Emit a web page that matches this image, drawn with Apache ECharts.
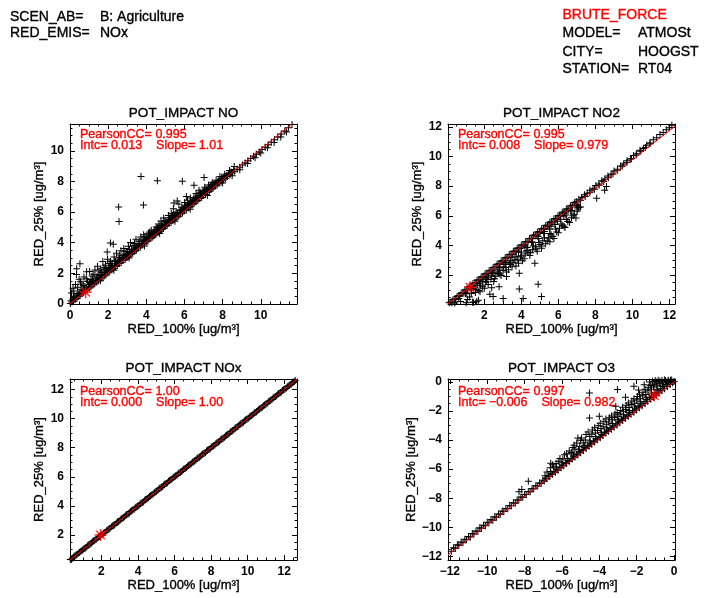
<!DOCTYPE html>
<html>
<head>
<meta charset="utf-8">
<script src="https://cdn.jsdelivr.net/npm/echarts@6/dist/echarts.min.js"></script>
<style>html,body{margin:0;padding:0;background:#fff}#c{width:717px;height:598px}</style>
</head>
<body>
<div id="c"></div>
<script>
// ---------------- data ----------------
const panelTitles = ['POT_IMPACT NO', 'POT_IMPACT NO2', 'POT_IMPACT NOx', 'POT_IMPACT O3'];
const statsLine1 = ['PearsonCC= 0.995', 'PearsonCC= 0.995', 'PearsonCC= 1.00', 'PearsonCC= 0.997'];
const statsLine2 = ['Intc= 0.013    Slope= 1.01', 'Intc= 0.008    Slope= 0.979', 'Intc= 0.000    Slope= 1.00', 'Intc= \u22120.006    Slope= 0.982'];
const xAxisName = 'RED_100% [ug/m\u00b3]';
const yAxisName = 'RED_25% [ug/m\u00b3]';
const headerLeft = [['SCEN_AB=', 'B: Agriculture'], ['RED_EMIS=', 'NOx']];
const headerRight = [['MODEL=', 'ATMOSt'], ['CITY=', 'HOOGST'], ['STATION=', 'RT04']];
const methodLabel = 'BRUTE_FORCE';

const xRanges = [[0, 11.9], [0.04, 12.3], [0.28, 12.7], [-12.1, 0.05]];
const yRanges = [[0, 11.75], [0.04, 12.2], [0.28, 12.72], [-12.25, 0.2]];

const noPoints = [
[0.02,0.04],[0.1,0.13],[0.19,0.18],[0.27,0.31],[0.36,0.37],[0.46,0.49],[0.53,0.55],[0.63,0.67],[0.72,0.73],[0.83,0.87],[0.9,0.93],[1.02,1.05],[1.1,1.13],[1.21,1.25],[1.3,1.33],[1.4,1.44],[1.49,1.52],[1.59,1.63],[1.68,1.71],[1.79,1.83],[1.88,1.9],[1.99,2.04],[2.08,2.11],[2.19,2.23],[2.28,2.31],[2.39,2.44],[2.48,2.5],[2.59,2.64],[2.68,2.71],[2.79,2.84],[2.89,2.91],[2.99,3.04],[3.08,3.11],[3.19,3.24],[3.29,3.31],[3.39,3.45],[3.48,3.51],[3.59,3.65],[3.69,3.72],[3.79,3.85],[3.9,3.93],[4.0,4.06],[4.09,4.12],[4.2,4.26],[4.3,4.33],[4.4,4.46],[4.5,4.53],[4.6,4.66],[4.69,4.72],[4.8,4.86],[4.9,4.93],[5.0,5.07],[5.09,5.13],[5.2,5.27],[5.3,5.33],[5.4,5.47],[5.49,5.53],[5.6,5.67],[5.7,5.73],[5.8,5.87],[5.9,5.94],[6.0,6.08],[6.1,6.14],[6.21,6.28],[6.3,6.35],[6.41,6.48],[6.5,6.55],[6.61,6.68],[6.7,6.75],[6.81,6.89],[6.9,6.95],[7.01,7.09],[7.1,7.15],[7.21,7.29],[7.31,7.36],[7.41,7.49],[7.5,7.55],[7.62,7.7],[7.71,7.76],[7.82,7.89],[7.92,7.97],[8.03,8.1],[8.14,8.19],[8.26,8.32],[8.38,8.42],[8.5,8.55],[8.63,8.67],[8.76,8.8],[8.9,8.93],[9.04,9.07],[9.18,9.2],[9.33,9.35],[9.47,9.49],[9.62,9.64],[9.77,9.78],[9.92,9.93],[10.07,10.08],[10.23,10.24],[10.39,10.4],[10.55,10.56],[10.72,10.73],[10.89,10.9],[11.07,11.09],[11.26,11.29],[11.45,11.5],[11.64,11.71],
[0.06,0.22],[0.15,0.33],[0.24,0.41],[0.33,0.52],[0.43,0.6],[0.51,0.71],[0.6,0.79],[0.69,0.9],[0.79,0.98],[0.87,1.08],[0.97,1.16],[1.06,1.27],[1.15,1.35],[1.25,1.45],[1.35,1.54],[1.45,1.65],[1.54,1.73],[1.64,1.84],[1.73,1.93],[1.84,2.03],[1.93,2.13],[2.04,2.24],[2.13,2.33],[2.24,2.44],[2.34,2.53],[2.44,2.65],[2.53,2.73],[2.64,2.85],[2.73,2.93],[2.84,3.05],[2.94,3.13],[3.04,3.25],[3.14,3.34],[3.24,3.45],[3.34,3.53],[3.44,3.66],[3.54,3.74],[3.64,3.86],[3.74,3.94],[3.84,4.07],[3.95,4.15],[4.05,4.27],[4.15,4.35],[4.25,4.48],[4.35,4.56],[4.45,4.68],[4.55,4.76],[4.65,4.88],[4.75,4.96],[4.85,5.09],[4.95,5.17],[5.05,5.29],[5.15,5.37],[5.25,5.5],[5.35,5.57],[5.45,5.7],[5.55,5.78],[5.65,5.9],[5.75,5.98],[5.85,6.11],[5.95,6.18],[6.05,6.31],[6.16,6.39],[6.26,6.51],[6.36,6.59],[6.46,6.72],[6.56,6.79],[6.66,6.92],[6.76,6.99],[6.86,7.12],[6.96,7.19],[7.06,7.32],[7.16,7.39],[7.26,7.52],[7.36,7.59],[7.46,7.71],[7.57,7.78],[7.67,7.91],[7.77,7.98],[7.87,8.1],[7.97,8.17],[8.09,8.3],[8.2,8.38],[8.32,8.5],[8.44,8.6],
[1.6,1.52],[2.3,2.2],[3.1,3.0],[3.9,3.79],[4.7,4.6],[5.5,5.4],[6.3,6.18],[7.2,7.08],[8.0,7.9],[8.5,8.37],[8.9,8.76],[9.3,9.17],[9.7,9.55],[10.0,9.86],[10.35,10.2],[10.7,10.55],[11.05,10.9],[11.35,11.22],
[0.18,0.46],[0.41,0.68],[0.58,0.97],[0.79,1.12],[1.02,1.4],[1.18,1.52],[1.43,1.83],[1.58,1.93],[1.82,2.22],[2.03,2.38],[2.21,2.63],[2.38,2.77],[2.62,3.03],[2.79,3.18],[3.01,3.42],[3.22,3.58],[3.39,3.78],[3.61,3.93],[3.78,4.17],[4.02,4.33],[4.19,4.57],[4.41,4.73],[4.58,4.97],[4.81,5.13],[4.98,5.37],[5.22,5.53],[5.38,5.77],[5.61,5.93],[5.79,6.14],[6.02,6.33],[6.19,6.54],[6.42,6.68],[6.58,6.92],[6.81,7.08],[6.99,7.3],[7.22,7.43],[7.38,7.68],[7.61,7.83],[7.79,8.04],[8.02,8.2],[8.31,8.52],[8.58,8.78],
[0.08,0.72],[0.16,1.02],[0.29,1.27],[0.48,1.62],[0.34,1.92],[0.62,1.31],[0.73,1.77],[0.92,1.48],[1.03,2.12],[1.16,1.83],[1.31,2.22],[1.44,2.47],[1.61,2.28],[1.72,2.77],[1.86,2.53],[1.97,2.92],[2.12,2.78],[2.31,3.07],[2.44,3.32],[2.56,2.93],[2.67,3.47],[2.82,3.62],[2.93,3.28],[3.06,3.77],[3.17,4.02],[3.31,3.83],[3.46,4.22],[3.57,3.93],[3.71,4.37],[3.86,4.52],[3.97,4.18],[4.12,4.62],[4.26,4.82],[4.41,4.53],[4.52,5.02],[4.66,5.22],[4.77,5.42],[4.91,5.62],[5.02,5.23],[5.16,5.77],[5.31,5.92],[5.42,6.22],[5.56,5.98],[5.71,6.52],[5.86,6.28],[6.01,6.62],[6.16,6.77],[6.31,6.92],[6.46,6.83],[6.61,7.22],[6.76,7.42],[6.91,7.23],[7.06,7.62],[7.26,7.77],[7.46,7.92],[7.66,8.07],[7.86,8.32],[8.11,8.47],[8.36,8.72],[8.61,8.97],
[0.2,0.85],[0.4,1.1],[0.55,1.45],[0.7,1.2],[0.85,1.65],[1.1,1.6],[1.25,1.95],[1.38,1.7],[1.52,2.15],[1.66,2.05],[1.78,2.4],[1.9,2.3],[2.05,2.65],[2.18,2.5],[2.35,2.85],[2.5,2.7],[2.6,3.2],[2.74,3.0],[2.88,3.45],[3.0,3.2],[3.12,3.55],[3.25,3.4],[3.38,3.95],[3.5,3.7],[3.63,4.1],[3.77,3.95],[3.92,4.4],[4.05,4.25],[4.18,4.7],[4.33,4.45],[4.46,4.85],[4.6,4.72],[4.72,5.1],[4.86,5.0],[4.98,5.45],[5.1,5.3],[5.25,5.65],[5.37,5.5],[5.5,5.85],[5.65,5.95],[5.78,6.1],[5.92,6.2],[6.05,6.45],[6.2,6.5],[6.35,6.6],[6.5,6.95],[6.65,6.98],[6.82,7.3],[6.97,7.35],[7.13,7.5],[7.3,7.62],[7.52,7.8],[7.74,7.97],[7.95,8.2],[8.2,8.38],[8.45,8.6],
[3.72,8.33],[4.58,8.05],[5.89,8.02],[7.03,8.25],[6.5,7.75],[7.4,7.8],[2.55,6.33],[2.57,5.39],[3.85,6.46],[2.27,3.9],[2.12,3.98],[1.95,3.4],[0.52,2.62],[0.35,2.3],[0.87,2.1],[5.45,6.6],[5.62,6.72],[6.1,7.02]
];

const no2Points = [
[0.1,0.12],[0.19,0.17],[0.31,0.33],[0.41,0.4],[0.53,0.55],[0.62,0.61],[0.75,0.77],[0.84,0.82],[0.96,0.99],[1.05,1.03],[1.18,1.21],[1.27,1.25],[1.39,1.42],[1.49,1.47],[1.61,1.64],[1.7,1.68],[1.83,1.86],[1.92,1.9],[2.04,2.07],[2.13,2.11],[2.26,2.29],[2.35,2.32],[2.48,2.51],[2.57,2.54],[2.69,2.73],[2.79,2.76],[2.91,2.94],[3.0,2.97],[3.13,3.16],[3.22,3.19],[3.35,3.38],[3.44,3.4],[3.57,3.6],[3.65,3.62],[3.78,3.81],[3.87,3.84],[4.0,4.03],[4.09,4.05],[4.22,4.25],[4.31,4.27],[4.44,4.47],[4.53,4.49],[4.66,4.69],[4.75,4.71],[4.88,4.91],[4.97,4.93],[5.1,5.13],[5.19,5.15],[5.32,5.35],[5.41,5.37],[5.54,5.57],[5.63,5.59],[5.76,5.79],[5.85,5.81],[5.98,6.01],[6.07,6.03],[6.21,6.23],[6.3,6.26],[6.43,6.45],[6.52,6.48],[6.65,6.67],[6.75,6.71],[6.88,6.89],[6.97,6.94],[7.11,7.12],[7.26,7.23],[7.41,7.42],[7.56,7.52],[7.71,7.72],[7.87,7.83],[8.03,8.04],[8.19,8.15],[8.35,8.36],[8.51,8.47],[8.68,8.69],[8.85,8.81],[9.01,9.03],[9.19,9.14],[9.36,9.37],[9.53,9.49],[9.71,9.72],[9.89,9.84],[10.06,10.07],[10.23,10.19],[10.41,10.42],[10.59,10.54],[10.77,10.77],[10.95,10.91],[11.13,11.13],[11.31,11.27],[11.49,11.49],[11.66,11.63],[11.83,11.81],[11.99,11.95],[12.13,12.11],
[0.25,0.13],[0.46,0.34],[0.68,0.57],[0.9,0.78],[1.11,1.0],[1.33,1.21],[1.55,1.43],[1.76,1.64],[1.98,1.86],[2.2,2.07],[2.41,2.29],[2.63,2.5],[2.85,2.72],[3.06,2.93],[3.28,3.15],[3.5,3.36],[3.71,3.58],[3.93,3.79],[4.15,4.01],[4.36,4.22],[4.58,4.44],[4.8,4.65],[5.01,4.87],[5.23,5.08],[5.45,5.3],[5.66,5.51],[5.88,5.73],[6.1,5.94],[6.31,6.16],[6.53,6.37],[6.75,6.59],[6.96,6.8],[7.2,7.05],[7.45,7.3],[7.7,7.55],[7.95,7.8],[8.2,8.06],[8.45,8.31],[8.7,8.57],[8.95,8.83],[9.2,9.08],[9.45,9.34],[9.7,9.6],[9.95,9.85],[10.2,10.1],[10.45,10.36],[10.7,10.61],[10.95,10.86],
[1.05,0.78],[1.4,1.1],[1.75,1.45],[2.1,1.8],[2.45,2.14],[2.8,2.5],[3.15,2.84],[3.5,3.2],[3.85,3.53],[4.2,3.9],[4.55,4.23],[4.9,4.6],[5.25,4.93],[5.6,5.3],[5.95,5.63],[6.3,6.0],[6.65,6.33],[7.0,6.72],
[0.62,0.41],[0.98,0.74],[1.31,1.06],[1.62,1.31],[1.91,1.56],[2.21,1.86],[2.52,2.12],[2.81,2.41],[3.12,2.71],[3.41,2.96],[3.72,3.26],[4.01,3.56],[4.32,3.86],[4.61,4.21],[4.92,4.46],[5.21,4.81],[5.52,5.11],[5.81,5.41],[6.12,5.76],[6.41,6.06],[6.72,6.36],[7.01,6.71],
[0.41,0.11],[0.72,0.21],[1.02,0.13],[1.21,0.52],[1.52,0.81],[1.42,0.16],[1.71,0.96],[1.91,1.21],[2.06,1.52],[2.21,1.36],[2.36,1.71],[2.51,1.56],[2.62,1.91],[2.76,2.11],[2.91,1.96],[3.01,2.31],[3.16,2.51],[3.31,2.36],[3.42,2.71],[3.56,2.86],[3.71,2.61],[3.81,3.06],[3.96,3.21],[4.06,2.96],[4.21,3.41],[4.36,3.56],[4.46,3.31],[4.61,3.71],[4.76,3.91],[4.86,3.61],[5.01,4.06],[5.16,4.31],[5.31,4.11],[5.46,4.51],[5.61,4.71],[5.76,4.46],[5.91,4.91],[6.06,5.16],[6.21,5.36],[6.36,5.21],[6.51,5.61],[6.71,5.86],[6.86,6.11],[7.01,6.31],[7.11,6.56],
[1.1,0.35],[1.3,0.75],[1.55,1.0],[1.8,1.3],[2.0,1.1],[2.15,1.7],[2.4,1.95],[2.55,1.75],[2.7,2.2],[2.85,2.05],[3.05,2.55],[3.2,2.2],[3.35,2.8],[3.5,2.55],[3.65,3.0],[3.85,2.8],[4.0,3.3],[4.15,3.1],[4.3,3.65],[4.5,3.5],[4.65,3.95],[4.8,3.75],[4.95,4.2],[5.1,3.95],[5.25,4.5],[5.4,4.3],[5.55,4.8],[5.7,4.6],[5.85,5.1],[6.0,4.85],[6.15,5.45],[6.3,5.3],[6.45,5.75],[6.6,5.55],[6.8,6.0],[6.95,5.85],[7.05,6.45],[7.2,6.6],
[8.07,7.18],[8.5,7.72],[8.6,7.97],[7.07,6.6],[5.09,3.8],[5.54,4.25],[4.73,2.79],[3.89,2.11],[3.89,1.05],[4.91,1.37],[5.09,0.54],[4.1,0.42],[3.02,0.42],[2.48,0.55],[2.4,1.14],[1.77,0.87],[1.59,0.2],[1.68,0.3],[1.37,0.15],[3.2,1.89],[2.1,1.55],[2.8,1.2],[2.3,0.7]
];

const noxPoints = [
[0.3,0.31],[0.41,0.4],[0.55,0.57],[0.66,0.65],[0.8,0.82],[0.94,0.93],[1.05,1.07],[1.2,1.18],[1.31,1.33],[1.46,1.44],[1.57,1.6],[1.71,1.69],[1.84,1.86],[1.95,1.94],[2.1,2.12],[2.21,2.19],[2.36,2.37],[2.47,2.46],[2.62,2.64],[2.73,2.71],[2.88,2.9],[3.01,2.99],[3.12,3.14],[3.27,3.25],[3.38,3.4],[3.53,3.51],[3.64,3.66],[3.79,3.77],[3.9,3.92],[4.05,4.03],[4.16,4.18],[4.31,4.29],[4.42,4.44],[4.57,4.55],[4.68,4.7],[4.83,4.81],[4.94,4.96],[5.09,5.07],[5.2,5.22],[5.35,5.33],[5.46,5.48],[5.61,5.59],[5.72,5.74],[5.87,5.85],[5.98,6.0],[6.13,6.11],[6.24,6.26],[6.39,6.37],[6.5,6.52],[6.65,6.63],[6.76,6.78],[6.91,6.89],[7.02,7.04],[7.17,7.15],[7.28,7.3],[7.43,7.41],[7.54,7.56],[7.69,7.67],[7.8,7.82],[7.95,7.93],[8.06,8.08],[8.21,8.19],[8.32,8.34],[8.47,8.45],[8.58,8.6],[8.73,8.71],[8.84,8.86],[8.99,8.97],[9.1,9.12],[9.25,9.23],[9.36,9.38],[9.51,9.49],[9.62,9.64],[9.77,9.75],[9.88,9.9],[10.03,10.01],[10.14,10.16],[10.29,10.27],[10.4,10.42],[10.55,10.53],[10.66,10.68],[10.81,10.79],[10.92,10.94],[11.07,11.05],[11.18,11.2],[11.33,11.31],[11.44,11.46],[11.59,11.57],[11.7,11.72],[11.85,11.83],[11.96,11.98],[12.11,12.09],[12.22,12.24],[12.37,12.35],[12.48,12.5],[12.6,12.61],
[0.36,0.34],[0.48,0.5],[0.61,0.6],[0.73,0.75],[0.87,0.86],[0.99,1.01],[1.12,1.11],[1.25,1.27],[1.38,1.37],[1.51,1.53],[1.64,1.63],[1.77,1.79],[1.9,1.89],[2.03,2.05],[2.16,2.15],[2.29,2.31],[2.42,2.41],[2.55,2.57],[2.68,2.67],[2.81,2.83],[2.94,2.93],[3.07,3.09],[3.2,3.19],[3.33,3.35],[3.46,3.45],[3.59,3.61],[3.72,3.71],[3.85,3.87],[3.98,3.97],[4.11,4.13],[4.24,4.23],[4.37,4.39],[4.5,4.49],[4.63,4.65],[4.76,4.75],[4.89,4.91],[5.02,5.01],[5.15,5.17],[5.28,5.27],[5.41,5.43],[5.54,5.53],[5.67,5.69],[5.8,5.79],[5.93,5.95],[6.06,6.05],[6.19,6.21],[6.32,6.31],[6.45,6.47],[6.58,6.57],[6.71,6.73],[6.84,6.83],[6.97,6.99],[7.1,7.09],[7.23,7.25],[7.36,7.35],[7.49,7.51],[7.62,7.61],[7.75,7.77],[7.88,7.87],[8.01,8.03],[8.14,8.13],[8.27,8.29],[8.4,8.39],[8.53,8.55],[8.66,8.65],[8.79,8.81],[8.92,8.91],[9.05,9.07],[9.18,9.17],[9.31,9.33],[9.44,9.43],[9.57,9.59],[9.7,9.69],[9.83,9.85],[9.96,9.95],[10.09,10.11],[10.22,10.21],[10.35,10.37],[10.48,10.47],[10.61,10.63],[10.74,10.73],[10.87,10.89],[11.0,10.99],[11.13,11.15],[11.26,11.25],[11.39,11.41],[11.52,11.51],[11.65,11.67],[11.78,11.77],[11.91,11.93],[12.04,12.03],[12.17,12.19],[12.3,12.29],[12.43,12.45],[12.55,12.54]
];

const o3Points = [
[-11.92,-11.64],[-11.71,-11.46],[-11.52,-11.24],[-11.3,-11.06],[-11.11,-10.86],[-10.9,-10.67],[-10.71,-10.46],[-10.5,-10.29],[-10.31,-10.07],[-10.1,-9.89],[-9.91,-9.69],[-9.7,-9.51],[-9.51,-9.31],[-9.3,-9.11],[-9.11,-8.91],[-8.9,-8.73],[-8.71,-8.51],[-8.5,-8.34],[-8.31,-8.13],[-8.1,-7.94],[-7.91,-7.75],[-7.7,-7.56],[-7.51,-7.35],[-7.3,-7.16],[-7.11,-6.97],[-6.95,-6.81],[-6.81,-6.66],[-6.65,-6.51],[-6.51,-6.36],[-6.35,-6.21],[-6.21,-6.07],[-6.05,-5.91],[-5.91,-5.77],[-5.75,-5.61],[-5.61,-5.47],[-5.45,-5.31],[-5.31,-5.17],[-5.15,-5.02],[-5.01,-4.87],[-4.85,-4.72],[-4.71,-4.58],[-4.55,-4.43],[-4.41,-4.28],[-4.25,-4.14],[-4.11,-3.98],[-3.95,-3.84],[-3.81,-3.69],[-3.65,-3.54],[-3.51,-3.4],[-3.35,-3.25],[-3.21,-3.11],[-3.05,-2.96],[-2.91,-2.81],[-2.75,-2.66],[-2.61,-2.52],[-2.45,-2.37],[-2.31,-2.22],[-2.15,-2.08],[-2.01,-1.93],[-1.85,-1.78],[-1.71,-1.64],[-1.55,-1.49],[-1.41,-1.34],[-1.25,-1.2],[-1.11,-1.05],[-0.95,-0.91],[-0.81,-0.76],[-0.65,-0.61],[-0.51,-0.47],[-0.35,-0.32],[-0.21,-0.18],[-0.08,-0.06],[0.0,0.02],
[-11.8,-11.4],[-11.6,-11.2],[-11.4,-11.02],[-11.2,-10.82],[-11.0,-10.63],[-10.8,-10.43],[-10.6,-10.25],[-10.4,-10.04],[-10.2,-9.86],[-10.0,-9.66],[-9.8,-9.47],[-9.6,-9.27],[-9.4,-9.09],[-9.2,-8.88],[-9.0,-8.7],[-8.8,-8.5],[-8.6,-8.31],[-8.4,-8.12],[-8.2,-7.92],[-8.0,-7.74],[-7.8,-7.53],[-7.6,-7.35],[-7.4,-7.15],[-7.2,-6.96],[-7.02,-6.76],[-6.88,-6.62],[-6.72,-6.47],[-6.58,-6.31],[-6.42,-6.17],[-6.28,-6.01],[-6.12,-5.87],[-5.98,-5.71],[-5.82,-5.57],[-5.68,-5.41],[-5.52,-5.27],[-5.38,-5.11],[-5.22,-4.97],[-5.08,-4.81],[-4.92,-4.67],[-4.78,-4.51],[-4.62,-4.37],[-4.48,-4.21],[-4.32,-4.07],[-4.18,-3.91],[-4.02,-3.77],[-3.88,-3.61],[-3.72,-3.47],[-3.58,-3.31],[-3.42,-3.17],[-3.28,-3.01],[-3.12,-2.87],[-2.98,-2.71],[-2.82,-2.57],[-2.68,-2.41],[-2.52,-2.27],[-2.38,-2.11],[-2.22,-1.97],[-2.08,-1.81],[-1.92,-1.67],[-1.78,-1.51],[-1.62,-1.37],[-1.48,-1.21],[-1.32,-1.07],[-1.18,-0.91],[-1.02,-0.77],[-0.88,-0.61],[-0.72,-0.47],[-0.58,-0.31],[-0.42,-0.17],[-0.28,-0.03],[-0.12,0.08],
[-6.91,-6.46],[-6.61,-6.16],[-6.31,-5.86],[-6.01,-5.56],[-5.71,-5.26],[-5.41,-4.96],[-5.11,-4.66],[-4.81,-4.36],[-4.51,-4.06],[-4.21,-3.76],[-3.91,-3.46],[-3.61,-3.16],[-3.31,-2.86],[-3.01,-2.56],[-2.71,-2.26],[-2.41,-1.96],[-2.11,-1.66],[-1.81,-1.36],[-1.51,-1.06],[-1.21,-0.76],[-0.91,-0.51],[-0.61,-0.21],[-0.31,0.04],
[-6.62,-5.91],[-6.31,-5.61],[-6.11,-5.26],[-5.86,-5.01],[-5.61,-4.76],[-5.41,-4.51],[-5.21,-4.21],[-5.31,-4.61],[-5.01,-4.01],[-4.86,-4.21],[-4.71,-3.61],[-4.51,-3.76],[-4.36,-3.31],[-4.21,-3.51],[-4.06,-3.01],[-3.91,-3.21],[-3.76,-2.71],[-3.61,-2.91],[-3.46,-2.46],[-3.31,-2.61],[-3.16,-2.21],[-3.01,-2.36],[-2.86,-1.96],[-2.71,-2.06],[-2.56,-1.61],[-2.41,-1.76],[-2.26,-1.31],[-2.11,-1.46],[-1.96,-1.01],[-1.81,-1.16],[-1.66,-0.71],[-1.51,-0.86],[-1.36,-0.36],[-1.21,-0.51],[-1.06,-0.16],[-0.91,-0.26],[-0.76,0.04],[-0.61,-0.06],[-0.46,0.09],[-0.31,0.12],[-0.16,0.14],[-1.01,0.09],[-1.31,0.0],[-0.52,0.15],
[-6.8,-6.2],[-6.5,-5.7],[-6.2,-5.45],[-5.95,-5.3],[-5.75,-4.95],[-5.5,-4.85],[-5.35,-4.35],[-5.05,-4.45],[-4.95,-3.85],[-4.75,-4.0],[-4.6,-3.45],[-4.4,-3.6],[-4.25,-3.15],[-4.1,-3.35],[-3.95,-2.85],[-3.8,-3.05],[-3.65,-2.55],[-3.5,-2.75],[-3.35,-2.35],[-3.2,-2.45],[-3.05,-2.1],[-2.9,-2.2],[-2.75,-1.75],[-2.6,-1.9],[-2.45,-1.45],[-2.3,-1.55],[-2.15,-1.15],[-2.0,-1.25],[-1.85,-0.85],[-1.7,-0.95],[-1.55,-0.5],[-1.4,-0.6],[-1.25,-0.25],[-1.1,-0.35],[-0.95,0.0],[-0.8,-0.12],[-0.65,0.1],[-0.4,0.0],[-0.2,0.1],[-1.6,-0.2],[-1.15,0.05],[-0.85,0.12],
[-4.53,-0.76],[-3.03,-0.53],[-2.15,-0.3],[-3.12,-1.67],[-4.53,-2.48],[-4.0,-2.36],[-5.15,-3.85],[-7.8,-6.83],[-8.15,-7.4],[-8.3,-7.55],[-6.6,-5.6],[-6.45,-5.85],[-1.9,-0.55],[-2.6,-1.05]
];

// regression lines (end points) and mean markers
const fitLines = [
  [[0, 0.013], [11.9, 12.03]],
  [[0.04, 0.047], [12.3, 12.05]],
  [[0.28, 0.28], [12.7, 12.7]],
  [[-12.1, -11.888], [0.05, 0.043]]
];
const meanPoints = [[0.82, 0.77], [1.23, 1.17], [1.95, 2.0], [-1.06, -0.94]];
const allPoints = [noPoints, no2Points, noxPoints, o3Points];

// ---------------- layout ----------------
const grids = [
  {left: 70, top: 124, width: 227, height: 180},
  {left: 448, top: 124, width: 227, height: 180},
  {left: 70, top: 379, width: 227, height: 181},
  {left: 448, top: 379, width: 227, height: 181}
];
const FONT = '"Liberation Sans", Arial, Helvetica, sans-serif';
const BLACK = '#000000', RED = '#ff0000';
const THICK = 0.35;

const crossPath = 'path://M-3.5,-0.5H3.5V0.5H-3.5Z M-0.5,-3.5H0.5V3.5H-0.5Z';
const starPath = 'path://M-5,-0.6H5V0.6H-5Z M-0.6,-5H0.6V5H-0.6Z M-3.18,-4.02L4.02,3.18L3.18,4.02L-4.02,-3.18Z M4.02,-3.18L-3.18,4.02L-4.02,3.18L3.18,-4.02Z';

function tickFmt(v) {
  const r = Math.round(v / 2) * 2;
  if (Math.abs(v - r) > 1e-6) return '';
  return r < 0 ? '\u2212' + Math.abs(r) : String(Math.abs(r));
}

const lineStyle = {color: BLACK, width: 1};
function makeAxis(gi, pos, range, withLabels, name, isY) {
  const a = {
    type: 'value', gridIndex: gi, position: pos,
    min: range[0], max: range[1], splitNumber: 6, minInterval: 2, maxInterval: 2,
    axisLine: {show: true, onZero: false, lineStyle},
    axisTick: {show: true, inside: true, length: 5, lineStyle},
    minorTick: {show: true, splitNumber: 4, length: 2.5, lineStyle},
    splitLine: {show: false}, minorSplitLine: {show: false},
    axisLabel: {show: withLabels, formatter: tickFmt, margin: 6, color: BLACK,
      fontFamily: FONT, fontWeight: 'bold', fontSize: 12, showMinLabel: true, showMaxLabel: true},
    axisPointer: {show: false}, silent: true
  };
  if (name) {
    a.name = name; a.nameLocation = 'middle';
    a.nameGap = isY ? 24 : 17;
    a.nameTextStyle = {color: BLACK, fontFamily: FONT, fontSize: 13,
      textBorderColor: BLACK, textBorderWidth: THICK};
  }
  return a;
}

function txt(text, x, y, size, color, align) {
  return {type: 'text', x: x, y: y, silent: true,
    style: {text: text, fill: color, fontFamily: FONT, fontSize: size,
      stroke: color, lineWidth: THICK,
      align: align, verticalAlign: 'middle', textAlign: align, textVerticalAlign: 'middle'}};
}

const xAxes = [], yAxes = [], series = [], graphics = [];
grids.forEach((g, i) => {
  xAxes.push(makeAxis(i, 'bottom', xRanges[i], true, xAxisName, false));
  xAxes.push(makeAxis(i, 'top', xRanges[i], false, null, false));
  yAxes.push(makeAxis(i, 'left', yRanges[i], true, yAxisName, true));
  yAxes.push(makeAxis(i, 'right', yRanges[i], false, null, true));
  series.push({type: 'scatter', xAxisIndex: 2 * i, yAxisIndex: 2 * i, data: allPoints[i],
    symbol: crossPath, symbolSize: 7, itemStyle: {color: BLACK, opacity: 1}, silent: true, z: 2});
  series.push({type: 'line', xAxisIndex: 2 * i, yAxisIndex: 2 * i, data: fitLines[i],
    symbol: 'none', lineStyle: {color: RED, width: 1}, silent: true, z: 3, clip: true});
  series.push({type: 'scatter', xAxisIndex: 2 * i, yAxisIndex: 2 * i, data: [meanPoints[i]],
    symbol: starPath, symbolSize: 12, itemStyle: {color: RED}, silent: true, z: 4});
  const cx = g.left + g.width / 2;
  graphics.push(txt(panelTitles[i], cx, g.top - 11, 13.5, BLACK, 'center'));
  const sdy = i < 2 ? 10.5 : 12.5;
  graphics.push(txt(statsLine1[i], g.left + 10, g.top + sdy, 12.5, RED, 'left'));
  graphics.push(txt(statsLine2[i], g.left + 10, g.top + sdy + 10.7, 12.5, RED, 'left'));
});

const leftY = [17, 33];
headerLeft.forEach((row, k) => {
  graphics.push(txt(row[0], 10, leftY[k], 14, BLACK, 'left'));
  graphics.push(txt(row[1], 100, leftY[k], 14, BLACK, 'left'));
});
graphics.push(txt(methodLabel, 562.5, 15.5, 14, RED, 'left'));
const rightY = [33.5, 52, 69];
headerRight.forEach((row, k) => {
  graphics.push(txt(row[0], 562.5, rightY[k], 14, BLACK, 'left'));
  graphics.push(txt(row[1], 638, rightY[k], 14, BLACK, 'left'));
});

const chart = echarts.init(document.getElementById('c'), null, {renderer: 'canvas'});
chart.setOption({
  backgroundColor: '#ffffff',
  animation: false,
  grid: grids,
  xAxis: xAxes,
  yAxis: yAxes,
  series: series,
  graphic: {elements: graphics}
});
</script>
</body>
</html>
